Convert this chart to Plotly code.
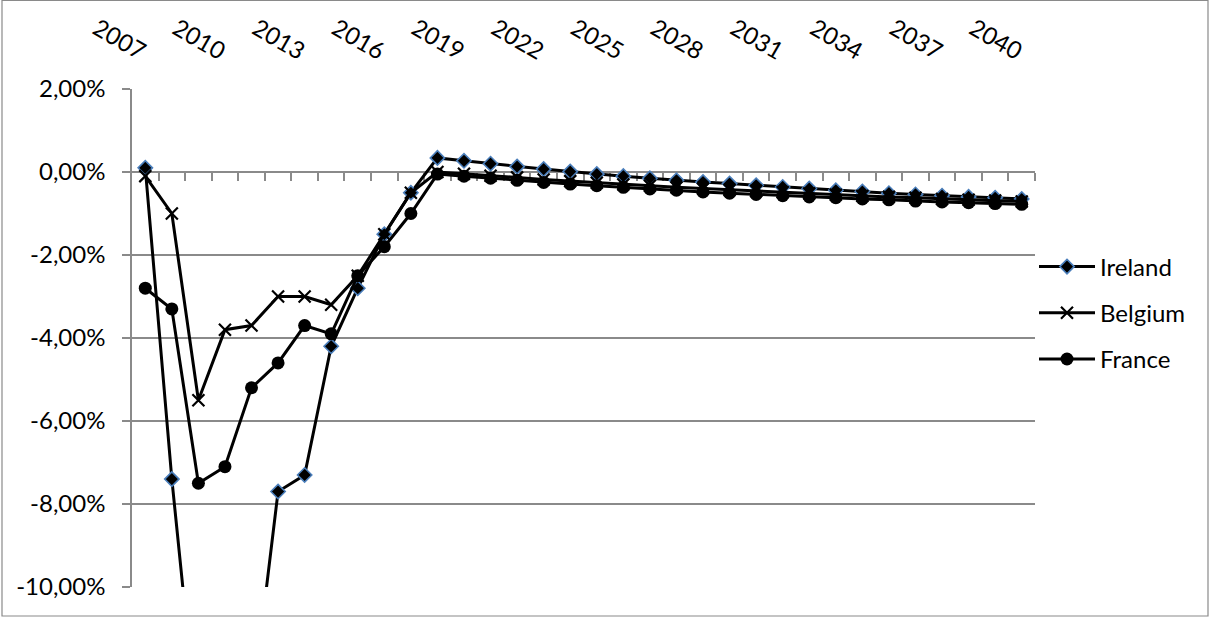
import plotly.graph_objects as go

# Budget balance, % of GDP
years = list(range(2007, 2041))

ireland = [0.1, -7.4, -13.7, -31.2, -13.0, -7.7, -7.3, -4.2, -2.8, -1.5,
           -0.5, 0.34, 0.27, 0.20, 0.13, 0.07, 0.01, -0.05, -0.10, -0.15,
           -0.20, -0.24, -0.28, -0.32, -0.36, -0.40, -0.44, -0.47, -0.51, -0.54,
           -0.57, -0.60, -0.62, -0.65]
belgium = [-0.1, -1.0, -5.5, -3.8, -3.7, -3.0, -3.0, -3.2, -2.5, -1.5,
           -0.5, 0.0, -0.04, -0.09, -0.13, -0.18, -0.22, -0.26, -0.30, -0.33,
           -0.37, -0.40, -0.43, -0.46, -0.49, -0.52, -0.55, -0.58, -0.60, -0.62,
           -0.65, -0.67, -0.69, -0.71]
france = [-2.8, -3.3, -7.5, -7.1, -5.2, -4.6, -3.7, -3.9, -2.5, -1.8,
          -1.0, -0.05, -0.10, -0.15, -0.20, -0.25, -0.29, -0.33, -0.37, -0.41,
          -0.44, -0.48, -0.51, -0.54, -0.57, -0.60, -0.62, -0.65, -0.67, -0.70,
          -0.72, -0.74, -0.76, -0.78]

year_ticks = list(range(2007, 2041, 3))
y_ticks = [-10, -8, -6, -4, -2, 0, 2]
y_ticktext = ["-10,00%", "-8,00%", "-6,00%", "-4,00%", "-2,00%", "0,00%", "2,00%"]

Y_MIN, Y_MAX = -10, 2
X_MIN, X_MAX = years[0] - 0.5, years[-1] + 0.5

W, H = 1211, 617
M_L, M_R, M_T, M_B = 132, 176, 89, 30
PW, PH = W - M_L - M_R, H - M_T - M_B

GRAY = "#8a8a8a"
FONT = "Lato"

fig = go.Figure()

fig.add_trace(go.Scatter(
    x=years, y=ireland, name="Ireland", mode="lines+markers", legendgroup="ie",
    line=dict(color="black", width=3),
    marker=dict(symbol="diamond", size=11, color="black",
                line=dict(color="#4a7ebb", width=1.6)),
))
fig.add_trace(go.Scatter(
    x=years, y=belgium, name="Belgium", mode="lines+markers", legendgroup="be",
    line=dict(color="black", width=3),
    marker=dict(symbol="x-thin", size=12, color="black",
                line=dict(color="black", width=2.2)),
))
fig.add_trace(go.Scatter(
    x=years, y=france, name="France", mode="lines+markers", legendgroup="fr",
    line=dict(color="black", width=3),
    marker=dict(symbol="circle", size=13, color="black"),
))
# empty trace so the crossing category axis (x2) is rendered
fig.add_trace(go.Scatter(x=[], y=[], xaxis="x2", showlegend=False,
                         hoverinfo="skip", mode="lines"))


def px_x(px):
    return (px - M_L) / PW


def px_y(py):
    return (H - M_B - py) / PH


# outer chart border
fig.add_shape(type="rect", xref="paper", yref="paper",
              x0=px_x(2), x1=px_x(1208), y0=px_y(616), y1=px_y(0.5),
              line=dict(color=GRAY, width=1.2), layer="below")

fig.update_layout(
    width=W, height=H,
    margin=dict(l=M_L, r=M_R, t=M_T, b=M_B, autoexpand=False),
    paper_bgcolor="white", plot_bgcolor="white",
    font=dict(family=FONT, size=24, color="black"),
    showlegend=True,
    legend=dict(x=px_x(1034), xanchor="left", y=px_y(313), yanchor="middle",
                font=dict(size=24), itemwidth=56, tracegroupgap=12,
                traceorder="grouped", bgcolor="rgba(0,0,0,0)"),
    xaxis=dict(range=[X_MIN, X_MAX], side="top", tickvals=year_ticks,
               ticktext=[str(y) for y in year_ticks], tickangle=30,
               showgrid=False, showline=False, zeroline=False, ticks="",
               automargin=False,
               ticklabelstandoff=21, tickfont=dict(size=24)),
    # category axis crossing at zero, with tick marks on category boundaries
    xaxis2=dict(overlaying="x", anchor="free",
                position=(0 - Y_MIN) / (Y_MAX - Y_MIN), side="bottom",
                range=[X_MIN, X_MAX], automargin=False,
                tickvals=[y + 0.5 for y in years], showticklabels=False,
                ticks="outside", ticklen=8, tickcolor=GRAY, tickwidth=1.5,
                showline=True, linecolor=GRAY, linewidth=1.5,
                showgrid=False, zeroline=False, layer="below traces"),
    yaxis=dict(range=[Y_MIN, Y_MAX], tickvals=y_ticks, ticktext=y_ticktext,
               showgrid=True, gridcolor=GRAY, gridwidth=1.5,
               showline=True, linecolor=GRAY, linewidth=1.5,
               ticks="outside", ticklen=8, tickcolor=GRAY, tickwidth=1.5,
               ticklabelstandoff=12, automargin=False,
               zeroline=False, tickfont=dict(size=24)),
)

fig.write_html("out.html")
